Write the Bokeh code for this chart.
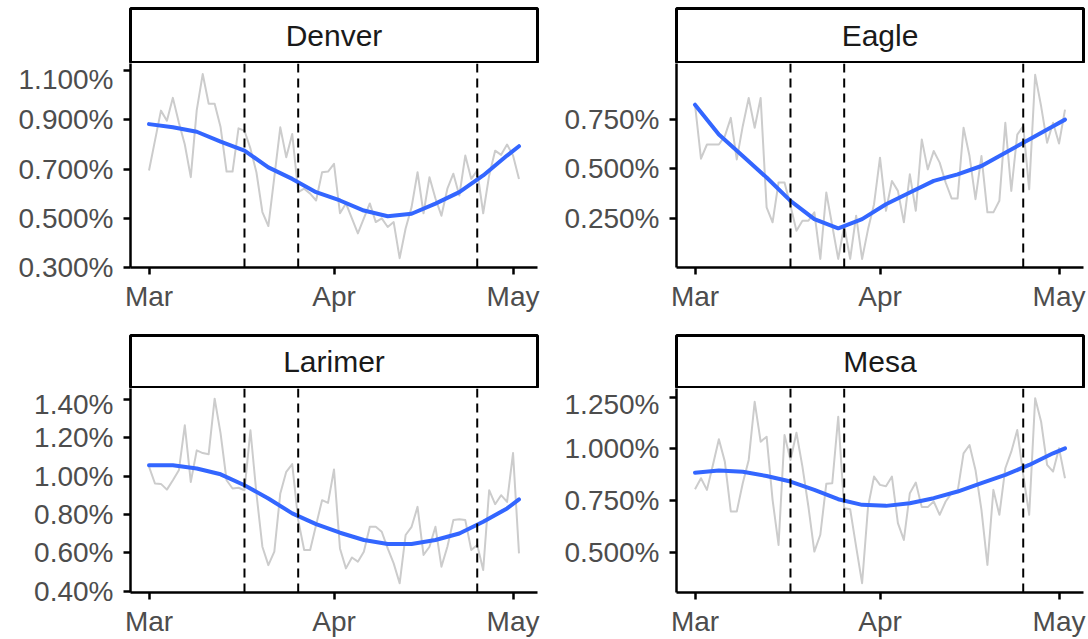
import pandas as pd
from bokeh.plotting import figure
from bokeh.layouts import gridplot
from bokeh.models import Range1d, FixedTicker, PrintfTickFormatter, DatetimeTickFormatter, Span
from bokeh.embed import file_html
from bokeh.resources import INLINE
from bokeh.core.properties import value

# ---------------- data ----------------
dates = pd.date_range("2020-03-01", "2020-05-02", freq="D")

counties = ["Denver", "Eagle", "Larimer", "Mesa"]

denver = [0.694, 0.816, 0.938, 0.897, 0.99, 0.89, 0.80, 0.667, 0.94, 1.087,
          0.966, 0.966, 0.87, 0.69, 0.69, 0.866, 0.856, 0.783, 0.687, 0.525,
          0.468, 0.667, 0.87, 0.748, 0.843, 0.606, 0.62, 0.60, 0.572, 0.687,
          0.69, 0.721, 0.52, 0.56, 0.499, 0.438, 0.499, 0.56, 0.484, 0.499,
          0.464, 0.484, 0.337, 0.458, 0.545, 0.687, 0.52, 0.667, 0.58, 0.51,
          0.62, 0.681, 0.592, 0.755, 0.66, 0.694, 0.52, 0.674, 0.775, 0.758,
          0.80, 0.755, 0.66]
eagle = [0.823, 0.552, 0.623, 0.623, 0.623, 0.665, 0.757, 0.548, 0.715, 0.857,
         0.707, 0.857, 0.307, 0.232, 0.432, 0.432, 0.315, 0.19, 0.24, 0.24,
         0.282, 0.048, 0.382, 0.215, 0.048, 0.215, 0.048, 0.265, 0.048, 0.198,
         0.323, 0.557, 0.29, 0.44, 0.39, 0.232, 0.473, 0.29, 0.648, 0.498,
         0.59, 0.532, 0.432, 0.352, 0.352, 0.707, 0.565, 0.348, 0.565, 0.282,
         0.282, 0.34, 0.732, 0.39, 0.673, 0.715, 0.398, 0.973, 0.815, 0.632,
         0.732, 0.628, 0.798]
larimer = [1.05, 0.962, 0.96, 0.93, 0.979, 1.031, 1.266, 0.97, 1.135, 1.121,
           1.115, 1.405, 1.222, 0.979, 0.936, 0.94, 0.927, 1.24, 0.91, 0.632,
           0.536, 0.606, 0.91, 1.023, 1.063, 0.771, 0.615, 0.615, 0.745, 0.875,
           0.861, 1.035, 0.623, 0.519, 0.576, 0.554, 0.606, 0.736, 0.736, 0.71,
           0.623, 0.545, 0.441, 0.693, 0.736, 0.84, 0.589, 0.632, 0.736, 0.528,
           0.632, 0.771, 0.775, 0.771, 0.615, 0.641, 0.51, 0.927, 0.854, 0.901,
           0.866, 1.121, 0.597]
mesa = [0.806, 0.859, 0.803, 0.923, 1.047, 0.939, 0.699, 0.699, 0.835, 0.947,
        1.227, 1.035, 1.059, 0.755, 0.538, 1.067, 0.947, 1.078, 0.915, 0.723,
        0.506, 0.587, 0.832, 0.835, 1.155, 0.715, 0.71, 0.53, 0.354, 0.723,
        0.867, 0.827, 0.82, 0.867, 0.643, 0.562, 0.787, 0.838, 0.72, 0.72,
        0.747, 0.683, 0.747, 0.787, 0.795, 0.979, 1.019, 0.899, 0.707, 0.442,
        0.803, 0.683, 0.907, 0.987, 1.091, 0.875, 0.683, 1.244, 1.131, 0.923,
        0.891, 1.003, 0.859]

# smoothed (loess) trend read at these dates
smooth_dates = pd.to_datetime([
    "2020-03-01", "2020-03-05", "2020-03-09", "2020-03-13", "2020-03-17",
    "2020-03-21", "2020-03-25", "2020-03-29", "2020-04-02", "2020-04-06",
    "2020-04-10", "2020-04-14", "2020-04-18", "2020-04-22", "2020-04-26",
    "2020-04-30", "2020-05-02"])
denver_smooth = [0.883, 0.87, 0.852, 0.812, 0.775, 0.707, 0.66, 0.606, 0.572,
                 0.531, 0.508, 0.518, 0.559, 0.606, 0.674, 0.755, 0.793]
eagle_smooth = [0.823, 0.673, 0.565, 0.457, 0.34, 0.248, 0.202, 0.248, 0.323,
                0.382, 0.44, 0.473, 0.515, 0.582, 0.648, 0.715, 0.748]
larimer_smooth = [1.057, 1.057, 1.04, 1.01, 0.953, 0.884, 0.806, 0.75, 0.705,
                  0.667, 0.646, 0.646, 0.667, 0.701, 0.762, 0.832, 0.879]
mesa_smooth = [0.886, 0.896, 0.89, 0.87, 0.843, 0.803, 0.758, 0.731, 0.726,
               0.739, 0.763, 0.795, 0.835, 0.875, 0.923, 0.979, 1.003]

event_dates = pd.to_datetime(["2020-03-17", "2020-03-26", "2020-04-25"])
month_ticks = pd.to_datetime(["2020-03-01", "2020-04-01", "2020-05-01"])

denver_ticks = [0.3, 0.5, 0.7, 0.9, 1.1]
eagle_ticks = [0.25, 0.5, 0.75]
larimer_ticks = [0.4, 0.6, 0.8, 1.0, 1.2, 1.4]
mesa_ticks = [0.5, 0.75, 1.0, 1.25]

# ---------------- styling helpers ----------------
FONT = "Liberation Sans"


def ms(ts):
    return pd.Timestamp(ts).value // 10**6


x_start = ms(dates[0]) - 3.1 * 86400000
x_end = ms(dates[-1]) + 3.1 * 86400000


def strip(name, width, height, left, right, top):
    s = figure(width=width, height=height, x_range=Range1d(0, 1), y_range=Range1d(0, 1),
               x_axis_location=None, y_axis_location=None,
               output_backend="svg", toolbar_location=None,
               min_border_left=left, min_border_right=right,
               min_border_top=top, min_border_bottom=1)
    s.grid.visible = False
    s.outline_line_color = "black"
    s.outline_line_width = 3
    s.text(x=[0.5], y=[0.5], text=[name], text_align="center", text_baseline="middle",
           text_font=value(FONT), text_font_size="30px", text_color="#1A1A1A")
    return s


def panel(vals, smooth, yr, yticks, fmt, width, height, left, right, bottom):
    p = figure(width=width, height=height, x_axis_type="datetime",
               x_range=Range1d(x_start, x_end), y_range=Range1d(*yr),
               output_backend="svg", toolbar_location=None,
               min_border_left=left, min_border_right=right,
               min_border_top=0, min_border_bottom=bottom)
    p.grid.visible = False
    p.outline_line_color = None
    p.line(dates, vals, line_color="#CCCCCC", line_width=2, line_join="round")
    p.line(smooth_dates, smooth, line_color="#3366FF", line_width=4,
           line_join="round", line_cap="round")
    for d in event_dates:
        p.add_layout(Span(location=ms(d), dimension="height", line_color="black",
                          line_width=2, line_dash="9 6"))
    p.xaxis.ticker = FixedTicker(ticks=[ms(t) for t in month_ticks])
    p.xaxis.formatter = DatetimeTickFormatter(days="%b", months="%b", years="%b")
    p.yaxis.ticker = FixedTicker(ticks=yticks)
    p.yaxis.formatter = PrintfTickFormatter(format=fmt)
    for ax in (p.xaxis, p.yaxis):
        ax.axis_line_color = "black"
        ax.axis_line_width = 2.5
        ax.major_tick_line_color = "black"
        ax.major_tick_line_width = 2.5
        ax.major_tick_in = 0
        ax.major_tick_out = 7
        ax.minor_tick_line_color = None
        ax.major_label_text_font = FONT
        ax.major_label_text_font_size = "28px"
        ax.major_label_text_color = "#4D4D4D"
    p.xaxis.major_label_standoff = 6
    p.yaxis.major_label_standoff = 10
    return p


LW, RW = 558, 529
LL, LR = 130, 21
RL, RR = 118, 4

s1 = strip(counties[0], LW, 63, LL, LR, 8)
s2 = strip(counties[1], RW, 63, RL, RR, 8)
s3 = strip(counties[2], LW, 55, LL, LR, 2)
s4 = strip(counties[3], RW, 55, RL, RR, 2)

p1 = panel(denver, denver_smooth, (0.299, 1.13), denver_ticks, "%.3f%%", LW, 270, LL, LR, 66)
p2 = panel(eagle, eagle_smooth, (0.005, 1.03), eagle_ticks, "%.3f%%", RW, 270, RL, RR, 66)
p3 = panel(larimer, larimer_smooth, (0.393, 1.458), larimer_ticks, "%.2f%%", LW, 251, LL, LR, 46)
p4 = panel(mesa, mesa_smooth, (0.309, 1.291), mesa_ticks, "%.3f%%", RW, 251, RL, RR, 46)

grid = gridplot([[s1, s2], [p1, p2], [s3, s4], [p3, p4]], toolbar_location=None)

open("out.html", "w").write(file_html(grid, INLINE))
